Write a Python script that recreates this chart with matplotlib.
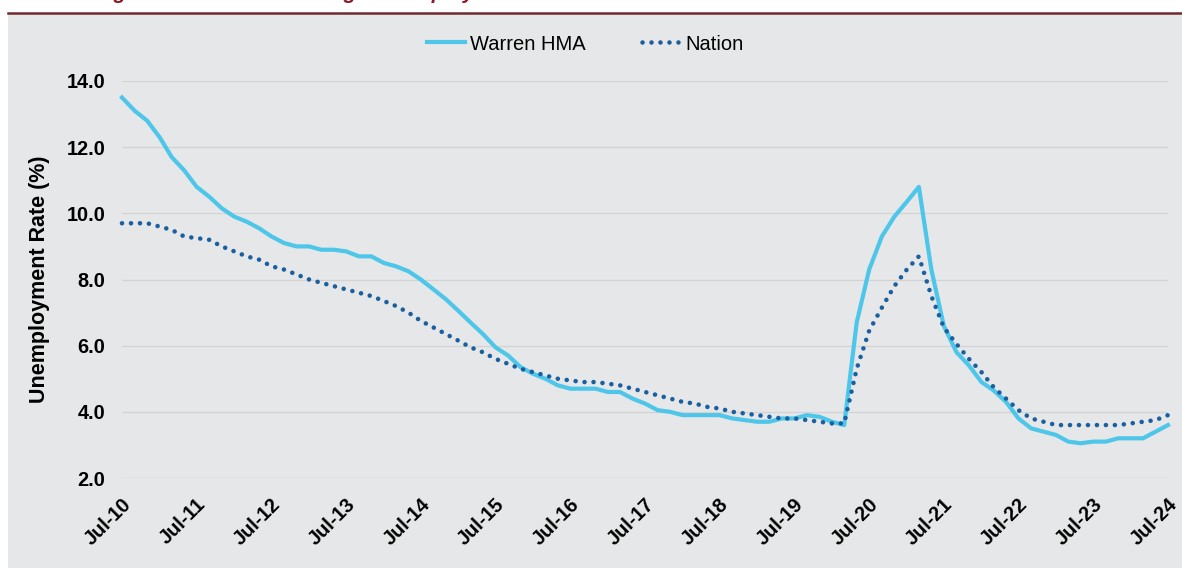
import matplotlib.pyplot as plt
import matplotlib.transforms as mtransforms
from matplotlib.lines import Line2D
from matplotlib.patches import Rectangle
import pandas as pd

plt.rcParams['font.family'] = ['Liberation Sans', 'DejaVu Sans']

# bimonthly readings, Jul-10 .. Jul-24
months = pd.date_range('2010-07-01', '2024-07-01', freq='2MS')

warren = [13.5, 13.1, 12.8, 12.3, 11.7, 11.3, 10.8, 10.5, 10.15, 9.9, 9.75, 9.55,
          9.3, 9.1, 9.0, 9.0, 8.9, 8.9, 8.85, 8.7, 8.7, 8.5, 8.4, 8.25,
          8.0, 7.7, 7.4, 7.05, 6.7, 6.35, 5.95, 5.7, 5.35, 5.15, 5.0, 4.8,
          4.7, 4.7, 4.7, 4.6, 4.6, 4.4, 4.25, 4.05, 4.0, 3.9, 3.9, 3.9,
          3.9, 3.8, 3.75, 3.7, 3.7, 3.8, 3.8, 3.9, 3.85, 3.7, 3.6, 6.7,
          8.3, 9.3, 9.9, 10.35, 10.8, 8.3, 6.6, 5.8, 5.4, 4.9, 4.65, 4.3,
          3.8, 3.5, 3.4, 3.3, 3.1, 3.05, 3.1, 3.1, 3.2, 3.2, 3.2, 3.4,
          3.6]

nation = [9.7, 9.7, 9.7, 9.6, 9.5, 9.3, 9.25, 9.2, 9.0, 8.85, 8.7, 8.6,
          8.4, 8.3, 8.15, 8.0, 7.9, 7.8, 7.7, 7.6, 7.5, 7.35, 7.2, 7.0,
          6.75, 6.55, 6.35, 6.15, 5.95, 5.8, 5.6, 5.45, 5.3, 5.2, 5.1, 5.0,
          4.95, 4.9, 4.9, 4.85, 4.8, 4.7, 4.6, 4.5, 4.4, 4.3, 4.25, 4.15,
          4.1, 4.0, 3.95, 3.9, 3.85, 3.8, 3.8, 3.75, 3.7, 3.65, 3.65, 5.3,
          6.45, 7.15, 7.8, 8.3, 8.7, 7.5, 6.55, 6.05, 5.6, 5.2, 4.75, 4.4,
          4.05, 3.8, 3.7, 3.6, 3.6, 3.6, 3.6, 3.6, 3.6, 3.65, 3.7, 3.75,
          3.9]

tick_dates = pd.date_range('2010-07-01', '2024-07-01', freq='12MS')
tick_labels = [d.strftime('%b-%y') for d in tick_dates]
y_ticks = [2.0, 4.0, 6.0, 8.0, 10.0, 12.0, 14.0]

bg = '#E6E7E8'
fig = plt.figure(figsize=(11.82, 5.68), dpi=100)
fig.patch.set_facecolor('white')

# grey panel and maroon rule at the top
fig.patches.append(Rectangle((8 / 1182, 0), 1, 1 - 14 / 568, transform=fig.transFigure,
                             facecolor=bg, edgecolor='none', zorder=-5))
fig.lines.append(Line2D([8 / 1182, 1], [1 - 12.5 / 568] * 2, transform=fig.transFigure,
                        color='#6E2B30', lw=1.8))
# the title sits above the crop, only its descenders show
fig.text(95 / 1182, 1 + 1 / 568, 'Figure 5. 12-Month Average Unemployment Rate in the Warren HMA and the Nation',
         color='#8B1A2B', fontsize=15, fontweight='bold', fontstyle='italic',
         ha='left', va='baseline')

ax = fig.add_axes([122 / 1182, 90 / 568, 1046 / 1182, 397 / 568])
ax.set_facecolor(bg)

ax.plot(months, warren, color='#4EC6EA', lw=3.0, label='Warren HMA', clip_on=False,
        solid_joinstyle='round', zorder=3)
ax.plot(months, nation, color='#1A5FA0', lw=3.3, linestyle=(0, (0.01, 1.95)),
        dash_capstyle='round', label='Nation', clip_on=False, zorder=4)

ax.set_xlim(months[0], months[-1])
ax.set_ylim(2, 14)
ax.set_yticks(y_ticks)
ax.set_yticklabels([f'{v:.1f}' for v in y_ticks])
ax.set_xticks(tick_dates)
ax.set_xticklabels(tick_labels, rotation=45, ha='right', va='center', rotation_mode='anchor')
ax.grid(axis='y', color='#D3D3D3', lw=0.9)
ax.set_axisbelow(True)
for s in ax.spines.values():
    s.set_visible(False)
ax.tick_params(axis='both', length=0, labelsize=14.3)
ax.tick_params(axis='y', pad=12)
ax.tick_params(axis='x', pad=17)
for lab in ax.get_xticklabels() + ax.get_yticklabels():
    lab.set_fontweight('bold')
shift = mtransforms.ScaledTranslation(6 / 100, 0, fig.dpi_scale_trans)
for lab in ax.get_xticklabels():
    lab.set_transform(lab.get_transform() + shift)

ax.set_ylabel('Unemployment Rate (%)', fontsize=15.5, fontweight='bold', labelpad=12)

fig.legend(loc='center', bbox_to_anchor=(585 / 1182, 1 - 44 / 568), ncol=2, frameon=False,
           fontsize=14.5, handlelength=1.9, handletextpad=0.25, columnspacing=2.8)

fig.savefig('out.png', dpi=100)
